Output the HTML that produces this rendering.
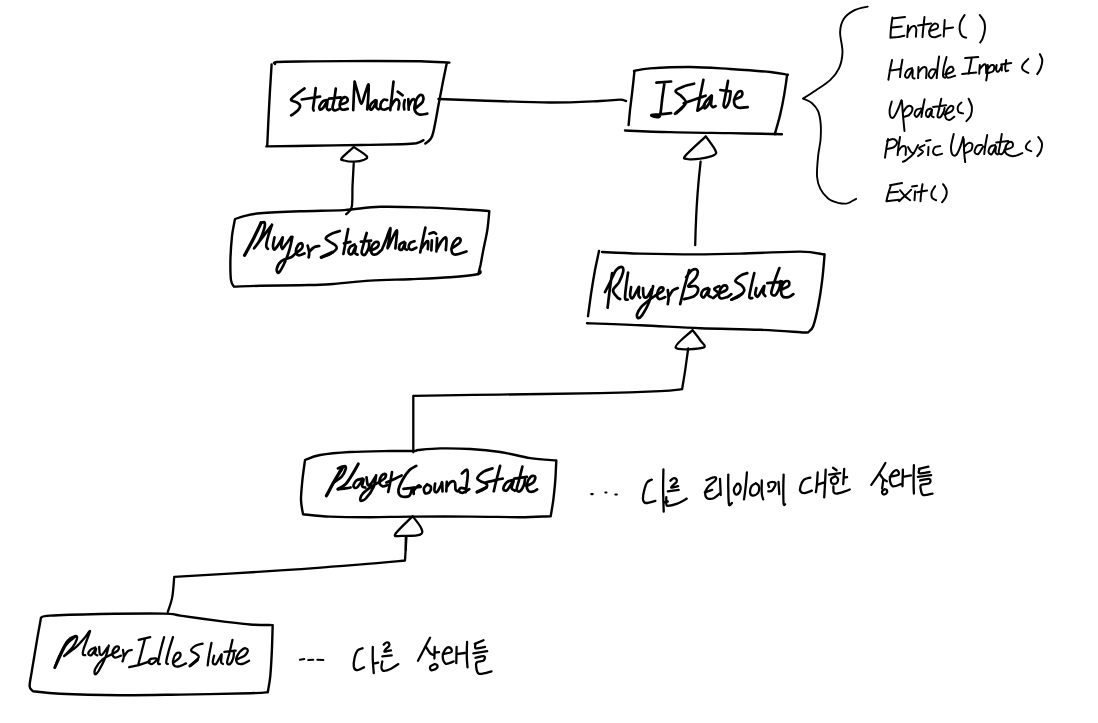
<!DOCTYPE html>
<html><head><meta charset="utf-8"><title>State diagram</title>
<style>html,body{margin:0;padding:0;background:#fff;}body{width:1098px;height:723px;overflow:hidden;font-family:"Liberation Sans",sans-serif;}svg{display:block;}</style>
</head><body>
<svg width="1098" height="723" viewBox="0 0 1098 723" fill="none" stroke="#000" stroke-linecap="round" stroke-linejoin="round">
<path d="M271.6 64.4C271.4 68.7 270.6 80.8 270.0 90.1C269.5 99.4 268.9 110.8 268.4 120.1C268.0 129.5 267.4 141.8 267.2 146.2M275.0 64.0C275.4 63.7 271.2 62.5 277.0 62.0C282.9 61.6 294.6 61.6 310.1 61.4C325.6 61.3 351.8 61.1 370.2 61.0C388.6 61.0 407.1 61.0 420.3 61.2C433.5 61.5 444.5 62.4 449.4 62.6M446.8 63.0C446.2 65.9 444.8 72.9 443.3 80.1C441.9 87.2 440.0 97.4 438.3 106.1C436.7 114.8 434.7 126.6 433.3 132.1C432.0 137.7 431.7 137.3 430.3 139.2C429.0 141.1 426.2 142.8 425.3 143.6M266.4 146.4C273.7 146.3 294.5 146.0 310.1 145.8C325.7 145.5 344.8 145.2 360.2 145.0C375.6 144.7 392.9 144.5 402.3 144.2C411.6 143.9 412.8 143.8 416.3 143.2C419.8 142.5 422.3 140.7 423.5 140.2" stroke-width="2.4"/>
<path d="M304.5 88.5C303.4 89.2 300.2 91.5 298.1 93.1C296.0 94.7 293.2 96.9 292.1 98.1C291.0 99.3 290.6 99.8 291.5 100.5C292.3 101.2 295.6 101.7 297.1 102.5C298.5 103.3 299.9 104.2 300.1 105.5C300.3 106.8 299.3 108.7 298.1 110.1C296.9 111.5 294.2 113.2 293.1 114.1C291.9 115.0 291.4 115.1 291.1 115.3M301.7 99.5L320.1 96.7M315.7 88.1C315.5 89.7 315.0 94.7 314.5 98.1C314.1 101.4 313.2 106.0 313.1 108.1C313.0 110.2 313.6 110.1 313.7 110.5M327.7 100.1C327.0 100.3 324.5 100.1 323.1 101.1C321.8 102.1 320.0 104.7 319.5 106.1C319.0 107.5 319.5 109.4 320.1 109.7C320.8 110.0 322.1 109.1 323.3 107.7C324.5 106.3 326.8 101.3 327.3 101.3C327.9 101.3 326.5 106.2 326.7 107.7C326.9 109.2 328.0 109.8 328.5 110.1C329.1 110.4 329.9 109.6 330.1 109.5M335.8 88.7C335.5 90.6 334.7 96.9 334.2 100.1C333.6 103.3 332.5 106.0 332.5 107.7C332.6 109.4 333.6 110.2 334.6 110.5C335.5 110.8 337.6 109.5 338.2 109.3M329.1 98.7L340.6 97.3M339.8 104.5C340.8 104.2 344.9 103.4 346.2 102.5C347.5 101.6 347.8 100.0 347.6 99.1C347.3 98.2 345.7 96.8 344.6 97.1C343.4 97.4 341.4 99.4 340.6 101.1C339.8 102.8 339.4 105.7 339.8 107.1C340.1 108.5 341.2 109.4 342.6 109.7C343.9 110.0 346.9 109.0 347.8 108.9M354.6 81.7C354.5 84.1 354.0 91.3 353.8 96.1C353.6 100.8 353.3 107.8 353.2 110.1M354.6 81.7C355.2 83.7 357.1 90.4 358.2 94.1C359.3 97.8 360.2 103.9 361.4 103.7C362.6 103.5 364.0 96.3 365.2 93.1C366.4 89.9 368.1 83.6 368.6 84.5C369.1 85.3 368.4 93.9 368.2 98.1C368.0 102.3 367.4 107.6 367.2 109.5M375.2 100.1C374.6 100.7 372.1 102.4 371.2 103.7C370.3 105.0 369.7 107.1 369.8 108.1C369.9 109.1 370.9 110.2 371.8 109.5C372.7 108.8 374.4 105.6 375.2 104.1C376.0 102.6 376.5 100.0 376.6 100.5C376.8 101.0 376.0 105.6 376.2 107.1C376.5 108.6 377.6 109.1 378.2 109.3C378.8 109.5 379.6 108.6 379.8 108.5M387.2 100.1C386.7 100.0 384.9 99.0 383.8 99.7C382.7 100.4 381.1 102.6 380.6 104.1C380.2 105.6 380.6 107.6 381.2 108.5C381.9 109.4 383.5 109.8 384.6 109.7C385.8 109.6 387.6 108.4 388.2 108.1M393.5 81.7C393.2 84.1 392.4 91.3 391.9 96.1C391.3 100.8 390.5 107.8 390.3 110.1M390.7 107.1C391.3 106.0 393.5 101.7 394.7 100.5C395.9 99.3 397.1 99.3 397.9 99.7C398.6 100.1 399.2 101.5 399.3 103.1C399.3 104.7 398.4 108.4 398.3 109.5M404.7 100.1C404.5 100.9 403.9 103.5 403.9 105.1C403.8 106.7 404.2 108.8 404.3 109.5M397.7 91.7L402.7 95.3M408.3 99.1L408.7 109.7M408.7 106.5C409.2 105.5 410.6 101.7 411.5 100.5C412.4 99.3 413.2 99.0 413.9 99.3C414.6 99.6 415.3 100.7 415.5 102.5C415.7 104.3 415.0 108.8 414.9 110.1M416.3 107.7C417.4 106.7 421.6 103.6 422.7 101.7C423.8 99.8 423.6 97.6 423.1 96.5C422.6 95.4 420.8 94.3 419.5 95.3C418.2 96.2 416.3 99.6 415.5 102.1C414.7 104.6 414.1 108.0 414.7 110.1C415.3 112.2 417.2 113.9 419.3 114.5C421.4 115.1 426.0 113.8 427.3 113.7" stroke-width="2.7"/>
<path d="M634.4 71.6C634.1 74.7 633.2 83.7 632.4 90.1C631.7 96.5 630.7 104.3 630.0 110.1C629.4 116.0 628.9 122.6 628.6 125.1M634.0 71.0C636.7 70.6 640.7 69.1 650.1 68.4C659.4 67.8 676.8 66.9 690.1 67.0C703.5 67.1 716.9 68.2 730.2 69.0C743.6 69.9 760.7 71.1 770.3 72.0C779.9 73.0 785.0 74.4 787.9 74.8M787.1 74.8C786.7 78.1 785.4 87.5 784.3 94.1C783.2 100.6 781.9 107.4 780.3 114.1C778.7 120.9 775.6 131.1 774.7 134.6M625.0 130.5C632.5 130.8 652.6 131.7 670.1 132.1C687.6 132.6 711.6 132.8 730.2 133.1C748.8 133.5 773.3 134.0 781.9 134.2" stroke-width="2.4"/>
<path d="M683.2 106.6L676.6 112.8" stroke-width="3.0"/>
<path d="M656.4 82.6L671.1 81.5M664.6 82.0C664.2 84.6 663.1 92.1 662.4 97.3C661.7 102.5 661.1 109.9 660.5 113.2C660.0 116.4 660.2 116.2 659.1 116.8C658.1 117.4 655.5 117.1 654.2 116.8C652.9 116.5 650.6 115.4 651.5 115.0C652.4 114.6 656.4 114.6 659.7 114.3C663.0 114.0 669.2 113.4 671.1 113.2M694.1 83.7C692.4 84.1 686.8 85.2 683.7 86.4C680.6 87.6 675.9 89.3 675.5 91.0C675.2 92.6 679.8 94.4 681.5 96.2C683.3 98.1 685.8 100.3 685.9 102.2C686.0 104.2 683.9 105.8 682.1 107.7C680.3 109.6 676.2 112.7 675.0 113.7M703.4 79.8C702.8 82.8 700.9 92.2 699.9 97.3C698.9 102.4 697.8 108.3 697.4 110.4M683.7 103.3C685.5 102.7 691.0 100.8 694.6 99.5C698.3 98.2 703.8 96.3 705.6 95.7M697.4 110.7C698.0 110.3 700.0 109.5 701.2 108.5C702.4 107.5 704.1 105.4 704.7 104.8M711.6 95.4C710.7 96.3 707.4 99.3 706.1 101.1C704.8 103.0 703.7 105.5 703.6 106.6C703.5 107.8 704.6 108.7 705.6 108.0C706.5 107.4 708.3 104.8 709.4 102.8C710.5 100.8 711.6 95.7 711.9 96.0C712.2 96.3 710.9 102.6 711.0 104.4C711.2 106.3 712.2 106.9 713.0 107.2C713.8 107.4 715.2 106.2 715.6 106.1M728.0 80.9C727.5 83.7 725.8 93.2 725.0 97.3C724.3 101.4 723.5 103.8 723.6 105.5C723.7 107.2 724.9 108.0 725.8 107.4C726.7 106.7 728.3 104.3 729.1 101.7C729.9 99.1 730.4 93.5 730.7 91.9M720.3 90.0L730.7 91.3M734.0 99.7C735.3 99.1 740.4 97.6 741.6 96.2C742.9 94.8 742.4 91.9 741.6 91.3C740.9 90.8 738.5 91.2 737.3 93.0C736.0 94.7 733.9 99.3 734.0 101.7C734.1 104.1 735.5 106.6 737.8 107.5C740.1 108.4 746.0 107.2 747.7 107.2" stroke-width="2.7"/>
<path d="M867.7 6.6C865.5 7.2 858.1 8.3 854.1 10.4C850.1 12.5 846.0 15.4 843.7 19.0C841.4 22.6 840.3 26.5 840.1 32.1C839.9 37.6 842.7 46.1 842.5 52.1C842.3 58.1 841.2 63.4 839.1 68.1C837.0 72.8 833.9 76.5 830.1 80.1C826.2 83.8 820.6 87.1 816.0 90.2C811.5 93.2 805.2 97.2 803.0 98.6M803.0 98.6C804.5 99.3 809.5 101.1 812.0 103.2C814.5 105.3 816.6 107.7 818.1 111.2C819.5 114.7 820.3 119.4 820.7 124.2C821.1 129.1 820.9 134.9 820.5 140.3C820.0 145.6 818.6 150.3 818.1 156.3C817.5 162.3 816.7 171.0 817.0 176.3C817.4 181.7 818.2 184.7 820.1 188.3C821.9 192.0 825.1 196.0 828.1 198.4C831.1 200.8 834.9 201.9 838.1 202.8C841.3 203.6 844.1 204.0 847.1 203.4C850.1 202.7 854.6 199.5 856.1 198.8" stroke-width="1.9"/>
<path d="M892.4 17.6C892.2 19.4 891.4 24.7 891.0 28.1C890.7 31.4 890.5 36.1 890.4 37.7M892.4 18.4L905.0 17.0M892.0 27.6L901.6 26.6M890.4 37.7C891.7 37.6 895.7 37.4 898.0 37.1C900.4 36.7 903.4 35.9 904.4 35.7M908.1 25.6L907.3 37.1M907.9 32.5C908.4 31.6 910.0 28.3 911.1 27.2C912.2 26.2 913.6 25.7 914.5 26.0C915.3 26.3 916.0 27.3 916.3 29.1C916.5 30.8 915.9 35.4 915.9 36.7M924.5 17.0C924.3 18.9 923.6 24.7 923.3 28.1C922.9 31.4 922.6 35.6 922.5 37.1M918.1 25.6L931.1 23.6M929.1 31.1C930.4 30.6 935.7 29.6 937.1 28.5C938.5 27.3 938.1 25.2 937.5 24.4C936.9 23.7 935.0 23.2 933.7 24.0C932.4 24.9 930.3 27.7 929.7 29.7C929.1 31.6 929.2 34.4 930.1 35.7C931.0 36.9 933.4 37.4 935.1 37.3C936.8 37.2 939.6 35.4 940.5 35.1M944.7 20.0L943.7 36.5M944.1 28.7L953.1 27.4M964.6 15.0C963.9 16.2 961.4 19.5 960.5 22.0C959.7 24.5 959.5 27.7 959.7 30.1C960.0 32.4 961.1 34.8 962.2 36.1C963.2 37.3 965.5 37.4 966.2 37.7M979.8 15.0C980.5 16.1 983.4 19.1 984.2 21.6C985.0 24.1 985.1 27.2 984.8 30.1C984.5 32.9 983.4 36.4 982.6 38.5C981.8 40.5 980.6 41.8 980.2 42.5M892.0 60.1C891.7 61.8 890.6 66.9 890.0 70.1C889.4 73.4 888.7 78.1 888.4 79.7M902.4 59.7C902.2 61.3 901.2 66.2 900.8 69.1C900.4 72.0 900.2 75.8 900.0 77.1M889.6 70.5C890.7 70.4 894.1 70.0 896.0 69.7C898.0 69.4 900.4 68.9 901.2 68.7M912.1 68.1C911.3 68.5 908.6 68.9 907.5 70.1C906.3 71.4 904.9 74.5 905.0 75.7C905.1 77.0 906.8 78.5 908.1 77.5C909.3 76.5 911.7 69.8 912.5 69.7C913.2 69.7 912.1 75.7 912.5 77.1C912.8 78.6 914.1 78.3 914.5 78.5M918.5 67.1L918.1 78.1M918.5 72.5C919.1 71.7 921.2 68.5 922.5 67.7C923.7 66.9 925.4 67.0 926.1 67.7C926.8 68.5 926.5 70.4 926.5 72.1C926.5 73.9 926.2 77.1 926.1 78.1M935.5 69.5C934.8 69.6 932.2 68.8 931.1 69.7C930.0 70.7 928.6 73.7 928.7 75.1C928.8 76.5 930.5 78.9 931.7 78.1C932.9 77.4 935.4 71.8 936.1 70.5M939.1 56.5C938.8 58.4 937.9 64.5 937.5 68.1C937.1 71.7 936.8 76.5 936.7 78.1M946.5 57.1C946.1 58.9 944.3 65.0 943.7 68.1C943.2 71.3 942.9 74.5 943.1 76.1C943.4 77.7 944.8 77.5 945.1 77.7M945.1 74.5C946.4 74.0 951.2 72.7 952.5 71.5C953.8 70.4 953.4 68.5 952.9 67.7C952.5 67.0 950.9 66.3 949.7 67.1C948.6 67.9 946.5 70.8 946.1 72.5C945.8 74.3 946.2 77.2 947.7 77.7C949.2 78.3 953.9 76.1 955.1 75.7M965.2 58.1L978.2 57.1M971.8 57.7C971.5 59.1 970.7 63.4 970.2 66.1C969.6 68.8 968.8 72.5 968.6 73.7M962.2 74.1L976.2 72.5M979.8 65.1L979.2 73.7M979.8 69.1C980.4 68.5 982.2 65.8 983.2 65.1C984.2 64.4 985.3 63.8 985.8 65.1C986.3 66.5 986.1 71.8 986.2 73.1M987.8 65.1C987.7 66.6 987.5 71.6 987.2 74.1C986.9 76.7 986.4 79.5 986.2 80.5M987.8 69.1C988.4 68.5 990.1 65.6 991.2 65.1C992.3 64.6 993.9 65.1 994.2 66.1C994.5 67.1 994.2 70.0 993.2 71.1C992.2 72.3 989.0 72.8 988.2 73.1M996.6 65.1C996.5 66.0 995.9 69.0 996.2 70.1C996.5 71.2 997.4 72.2 998.2 71.7C999.1 71.2 1000.6 68.3 1001.2 67.1C1001.8 65.9 1001.7 63.9 1001.8 64.5C1001.9 65.1 1001.8 69.5 1001.8 70.5M1006.2 60.1C1006.1 61.4 1005.3 66.3 1005.2 68.1C1005.2 70.0 1005.3 70.7 1005.8 71.1C1006.3 71.5 1007.8 70.6 1008.2 70.5M1001.2 64.5L1011.2 63.1M1028.3 58.9C1027.4 59.9 1023.8 62.9 1022.9 64.7C1021.9 66.5 1021.8 68.2 1022.7 69.5C1023.6 70.9 1027.3 72.4 1028.3 72.9M1039.9 54.1C1040.3 55.1 1042.2 57.8 1042.3 60.1C1042.4 62.4 1041.5 65.8 1040.7 68.1C1039.9 70.5 1037.9 73.1 1037.3 74.1" stroke-width="2.0"/>
<path d="M888.0 139.1C887.8 140.6 886.9 145.0 886.4 148.1C885.9 151.2 885.2 156.1 885.0 157.7M887.0 141.1C888.0 140.7 891.4 138.9 893.0 139.1C894.7 139.2 896.9 140.7 897.0 142.1C897.2 143.4 895.7 145.9 894.0 147.1C892.4 148.3 888.2 148.8 887.0 149.1M900.0 137.1C899.8 138.7 898.8 144.1 898.4 147.1C898.0 150.1 897.8 153.8 897.6 155.1M898.0 151.1C898.7 150.3 900.8 147.2 902.0 146.5C903.3 145.8 905.0 145.6 905.6 147.1C906.3 148.5 905.6 153.8 905.6 155.1M908.1 147.1C908.6 147.9 910.1 151.1 911.1 152.1C912.1 153.1 913.6 152.9 914.1 153.1M918.1 145.1C917.2 146.6 915.1 151.6 913.1 154.1C911.1 156.6 907.7 158.8 906.1 160.1C904.4 161.4 903.5 161.4 903.0 161.7M924.5 145.1C923.6 145.6 919.3 147.0 919.1 148.1C918.8 149.2 923.2 150.4 923.1 151.7C922.9 153.0 918.9 155.4 918.1 156.1M928.5 147.1L928.1 155.1M926.1 141.1L930.5 140.1M940.1 146.1C939.3 146.2 936.3 146.1 935.1 147.1C933.9 148.1 932.9 150.8 933.1 152.1C933.3 153.4 934.6 154.8 936.1 155.1C937.6 155.4 941.1 153.9 942.1 153.7M953.7 134.1C953.3 136.1 951.4 142.7 951.1 146.1C950.9 149.4 951.3 152.6 952.1 154.1C953.0 155.6 954.7 156.4 956.1 155.1C957.5 153.8 959.4 149.1 960.5 146.1C961.7 143.1 962.7 138.6 963.2 137.1M963.8 139.1C963.8 141.2 963.9 148.3 964.2 152.1C964.4 155.9 965.0 160.4 965.2 162.1M964.2 147.1C964.8 146.4 966.8 143.6 968.2 143.1C969.5 142.6 971.7 142.9 972.2 144.1C972.7 145.2 972.3 148.6 971.2 150.1C970.0 151.6 966.2 152.6 965.2 153.1M981.8 145.1C981.0 145.2 978.4 144.6 977.2 145.7C976.0 146.8 974.4 150.3 974.6 151.7C974.7 153.1 976.7 155.0 978.2 154.1C979.6 153.2 982.4 147.8 983.2 146.5M987.2 135.1C986.9 136.9 985.7 142.9 985.2 146.1C984.7 149.3 984.4 152.8 984.2 154.1M995.2 145.1C994.4 145.3 991.7 145.3 990.6 146.5C989.5 147.7 988.4 150.8 988.6 152.1C988.8 153.4 990.6 155.0 991.8 154.1C993.0 153.2 995.2 146.8 995.8 146.5C996.4 146.2 995.1 151.2 995.4 152.5C995.7 153.8 997.4 154.2 997.8 154.5M1001.8 134.1C1001.5 136.1 1000.3 143.0 999.8 146.1C999.3 149.2 998.5 151.2 998.8 152.5C999.2 153.8 1000.8 154.7 1001.8 154.1C1002.9 153.5 1004.5 150.6 1005.2 149.1C1006.0 147.6 1006.1 145.7 1006.2 145.1M996.2 142.5L1008.2 141.1M1004.2 150.1C1005.6 149.6 1010.9 148.4 1012.2 147.1C1013.6 145.8 1012.8 143.2 1012.2 142.5C1011.6 141.7 1009.8 141.5 1008.6 142.5C1007.5 143.4 1005.6 146.1 1005.2 148.1C1004.9 150.0 1005.1 152.8 1006.6 154.1C1008.1 155.4 1011.6 156.3 1014.2 156.1C1016.8 155.9 1020.9 153.6 1022.3 153.1M1029.9 141.1C1029.3 141.7 1026.8 143.7 1026.3 145.1C1025.7 146.4 1025.8 148.1 1026.7 149.1C1027.5 150.1 1030.5 150.8 1031.3 151.1M1038.3 137.1C1038.9 138.1 1041.5 140.7 1041.9 143.1C1042.3 145.4 1041.5 148.9 1040.7 151.1C1039.9 153.3 1037.9 155.3 1037.3 156.1M891.0 185.2C890.6 186.5 889.2 190.5 888.4 193.2C887.7 195.8 886.7 199.8 886.4 201.2M890.0 185.2L902.0 183.1M889.6 192.6L898.0 191.8M886.4 201.2L899.0 199.8M900.0 190.2C900.9 191.2 903.4 194.5 905.0 196.2C906.7 197.8 909.2 199.5 910.1 200.2M911.1 189.8C910.1 190.8 907.1 193.9 905.0 195.8C903.0 197.7 900.0 200.3 899.0 201.2M915.1 191.2L914.5 200.2M912.1 186.6L917.1 185.8M922.5 184.2C922.2 185.8 921.4 191.3 921.1 194.2C920.7 197.0 920.6 200.0 920.5 201.2M917.1 192.2L927.1 190.6M935.1 186.2C934.5 187.2 932.2 190.2 931.7 192.2C931.2 194.1 931.4 196.4 932.1 197.8C932.8 199.1 935.4 199.8 936.1 200.2M943.1 184.2C943.7 185.2 946.1 188.0 946.5 190.2C947.0 192.3 946.5 195.2 945.7 197.2C945.0 199.2 942.7 201.3 942.1 202.2" stroke-width="2.0"/>
<path d="M235.0 219.1C234.5 221.9 232.8 229.3 232.0 236.1C231.3 242.9 230.6 252.8 230.4 260.1C230.3 267.5 230.4 275.8 231.0 280.2C231.6 284.6 233.5 285.5 234.0 286.6M235.0 219.1C236.5 218.6 239.9 217.0 244.0 216.1C248.2 215.1 250.7 214.1 260.1 213.3C269.4 212.5 286.1 211.8 300.1 211.3C314.2 210.7 330.9 210.8 344.2 210.1C357.6 209.3 366.0 207.2 380.3 206.8C394.6 206.4 415.2 207.2 430.2 207.6C445.2 208.1 460.4 209.1 470.3 209.7C480.1 210.2 486.1 210.8 489.3 211.1M489.3 211.1C489.0 214.2 488.3 223.6 487.3 230.1C486.3 236.6 484.4 244.4 483.3 250.1C482.2 255.8 481.5 260.1 480.7 264.2C479.8 268.2 478.7 272.5 478.3 274.2M480.5 271.2C479.9 271.7 482.3 273.2 477.3 274.2C472.2 275.2 461.4 276.3 450.2 277.2C439.0 278.0 423.5 278.6 410.1 279.2C396.8 279.7 383.4 279.7 370.1 280.6C356.7 281.4 341.7 283.4 330.0 284.2C318.3 285.0 311.8 284.9 300.1 285.2C288.5 285.5 271.1 285.6 260.1 285.8C249.1 286.0 238.4 286.5 234.0 286.6" stroke-width="2.4"/>
<path d="M599.0 251.0C598.4 254.2 596.4 262.9 595.0 270.1C593.7 277.3 592.2 286.4 591.0 294.1C589.9 301.8 588.5 312.5 588.0 316.2M602.0 252.0C608.4 252.3 624.6 253.2 640.1 253.6C655.6 254.0 678.5 254.4 695.2 254.4C711.9 254.4 722.8 254.1 740.3 253.6C757.8 253.2 786.2 251.5 800.2 251.6C814.2 251.8 820.2 254.0 824.2 254.4M824.6 254.4C824.2 258.7 823.3 271.5 822.2 280.1C821.2 288.7 819.7 298.5 818.2 306.1C816.7 313.8 814.9 321.8 813.2 326.2C811.6 330.5 809.0 331.2 808.2 332.2M587.0 323.2C595.9 323.5 621.2 324.3 640.1 325.2C659.0 326.0 680.2 327.4 700.2 328.2C720.3 328.9 743.7 329.1 760.3 329.8C777.0 330.4 792.4 331.7 800.2 332.2C808.0 332.7 806.0 332.5 807.2 332.6" stroke-width="2.4"/>
<path d="M742.3 293.7L732.3 299.3" stroke-width="2.8"/>
<path d="M612.1 273.1C611.7 275.9 610.4 284.3 609.7 290.1C608.9 295.9 608.0 304.8 607.6 307.7M605.0 292.1C605.9 290.4 608.2 285.8 610.1 282.1C611.9 278.4 614.1 272.6 616.1 270.1C618.1 267.6 620.9 266.7 622.1 267.1C623.2 267.4 623.6 269.6 623.1 272.1C622.6 274.6 620.7 279.1 619.1 282.1C617.4 285.1 613.4 287.6 613.1 290.1C612.7 292.6 615.9 295.6 617.1 297.1C618.2 298.6 619.6 298.8 620.1 299.1M628.1 272.5C627.8 274.7 626.6 281.8 626.1 286.1C625.6 290.4 624.8 295.9 625.1 298.1C625.3 300.4 627.3 299.5 627.7 299.7M631.1 287.1C630.9 288.4 629.9 293.3 630.1 295.1C630.3 297.0 631.3 299.0 632.5 298.1C633.7 297.3 636.0 291.9 637.1 290.1C638.2 288.3 638.9 286.3 639.1 287.1C639.3 287.9 638.3 293.3 638.5 295.1C638.7 296.9 639.8 297.3 640.1 297.7M643.1 288.1C643.2 289.4 643.0 294.6 643.7 296.1C644.4 297.6 645.8 298.3 647.1 297.1C648.5 296.0 651.0 290.4 651.7 289.1M653.1 286.1C652.5 288.8 651.0 297.3 649.1 302.1C647.3 307.0 643.9 312.5 642.1 315.2C640.3 317.8 638.9 318.3 638.1 318.2C637.3 318.0 636.6 316.0 637.1 314.2C637.6 312.3 639.1 309.5 641.1 307.1C643.1 304.8 646.6 302.1 649.1 300.1C651.6 298.1 655.0 296.0 656.1 295.1M656.1 295.1C657.2 294.4 661.4 292.3 662.5 291.1C663.7 289.9 663.6 288.2 663.1 287.7C662.7 287.2 660.7 287.0 659.7 288.1C658.7 289.2 657.2 292.3 657.1 294.1C657.0 296.0 657.8 298.6 659.1 299.1C660.5 299.6 664.2 297.5 665.2 297.1M667.8 290.1C667.9 291.4 668.6 295.8 668.6 298.1C668.6 300.5 667.9 303.1 667.8 304.1M668.6 297.1C669.3 296.0 671.6 291.6 673.2 290.1C674.7 288.6 677.0 288.4 677.8 288.1M689.2 270.1C688.4 273.1 685.7 282.4 684.2 288.1C682.7 293.8 680.8 301.5 680.2 304.1M686.2 277.1C687.2 275.9 690.4 271.2 692.2 270.1C694.0 268.9 696.5 268.9 697.2 270.1C697.9 271.2 697.7 274.4 696.2 277.1C694.7 279.8 688.4 284.6 688.2 286.1C688.0 287.6 693.5 285.4 695.2 286.1C696.9 286.8 698.4 288.4 698.2 290.1C698.0 291.8 696.5 294.6 694.2 296.1C691.9 297.6 685.9 298.6 684.2 299.1M708.2 288.1C707.4 288.4 704.4 288.9 703.2 290.1C702.1 291.3 701.1 293.9 701.2 295.1C701.4 296.3 702.9 298.1 704.2 297.1C705.6 296.1 708.6 289.4 709.2 289.1C709.9 288.8 707.9 293.8 708.2 295.1C708.6 296.5 710.7 296.8 711.2 297.1M719.3 286.1C718.4 286.6 714.4 287.9 714.2 289.1C714.1 290.3 718.4 291.6 718.2 293.1C718.1 294.6 714.1 297.3 713.2 298.1M718.2 294.1C719.6 293.4 724.9 291.4 726.3 290.1C727.7 288.8 727.3 286.8 726.7 286.1C726.1 285.4 723.9 285.1 722.7 286.1C721.4 287.1 719.7 290.1 719.3 292.1C718.8 294.1 718.9 297.3 720.3 298.1C721.6 299.0 725.4 297.8 727.3 297.1C729.1 296.5 730.6 294.6 731.3 294.1M747.3 273.1C746.3 273.4 743.3 273.7 741.3 275.1C739.3 276.4 735.3 279.4 735.3 281.1C735.3 282.8 739.8 283.6 741.3 285.1C742.8 286.6 744.6 288.3 744.3 290.1C744.0 291.9 741.5 294.5 739.3 296.1C737.1 297.7 732.6 299.1 731.3 299.7M754.3 273.1C753.8 275.2 752.1 282.1 751.3 286.1C750.5 290.1 749.1 295.1 749.3 297.1C749.5 299.1 751.8 298.0 752.3 298.1M756.3 288.1C756.2 289.1 755.0 292.7 755.3 294.1C755.6 295.5 756.8 297.4 757.9 296.5C759.1 295.7 761.3 290.8 762.3 289.1C763.4 287.4 764.2 285.4 764.3 286.1C764.5 286.8 763.2 291.4 763.3 293.1C763.5 294.8 765.0 295.6 765.3 296.1M779.4 268.1C778.5 270.4 775.7 277.9 774.3 282.1C773.0 286.3 771.2 290.9 771.3 293.1C771.5 295.3 774.0 296.0 775.4 295.1C776.7 294.3 778.5 290.4 779.4 288.1C780.2 285.8 780.2 282.3 780.4 281.1M767.3 283.1L782.4 281.7M780.4 290.1C781.7 289.4 787.0 287.5 788.4 286.1C789.8 284.7 789.4 282.4 788.8 281.7C788.2 281.0 786.0 280.6 784.8 281.7C783.5 282.8 781.8 285.7 781.4 288.1C781.0 290.5 781.2 294.6 782.4 296.1C783.5 297.6 786.5 297.5 788.4 297.1C790.2 296.8 792.5 294.6 793.4 294.1" stroke-width="2.7"/>
<path d="M305.0 460.1C304.6 463.4 303.1 473.4 302.4 480.1C301.8 486.8 300.9 494.4 301.0 500.1C301.1 505.8 302.7 511.8 303.0 514.2M305.0 460.1C307.5 459.2 312.5 456.4 320.1 455.0C327.6 453.7 338.4 452.7 350.1 452.0C361.8 451.4 379.5 451.2 390.2 451.0C400.9 450.9 409.5 451.2 414.2 451.0C418.9 450.9 413.9 450.5 418.2 450.0C422.6 449.6 431.6 448.6 440.3 448.4C449.0 448.3 460.3 448.4 470.3 449.0C480.3 449.6 490.2 450.5 500.2 452.0C510.2 453.5 520.9 456.6 530.2 458.1C539.6 459.5 551.9 460.1 556.3 460.5M556.3 460.5C556.1 463.7 555.8 473.5 555.3 480.1C554.8 486.7 554.0 494.1 553.3 500.1C552.5 506.1 551.1 513.5 550.7 516.2M303.0 514.2C307.5 514.6 318.9 516.1 330.1 516.6C341.3 517.1 356.5 517.2 370.1 517.2C383.8 517.2 395.5 516.7 412.2 516.6C428.9 516.5 452.3 516.5 470.3 516.6C488.3 516.7 506.9 517.2 520.2 517.2C533.5 517.1 545.3 516.3 550.3 516.2" stroke-width="2.4"/>
<path d="M591.3 494.1L592.7 494.1M605.4 492.5L606.4 492.5M615.4 494.5L616.8 494.5" stroke-width="2.2"/>
<path d="M438.4 99.0C445.3 99.2 461.4 99.9 480.0 100.5C498.6 101.1 530.0 102.4 550.0 102.5C570.0 102.6 588.3 101.5 600.0 101.0C611.7 100.5 615.7 99.7 620.0 99.7C624.3 99.7 625.0 100.8 626.0 101.0" stroke-width="2.3"/>
<path d="M353.7 147.0C351.7 148.9 343.3 155.8 341.7 158.1C340.1 160.3 342.0 159.9 344.1 160.5C346.2 161.1 350.8 161.8 354.1 161.7C357.5 161.5 362.1 160.6 364.2 159.7C366.2 158.7 368.3 158.2 366.6 156.0C364.8 153.9 355.9 148.5 353.7 147.0M353.7 163.7C353.5 167.4 352.9 178.9 352.5 186.1C352.2 193.3 352.8 202.5 351.7 207.1C350.7 211.8 347.1 213.0 346.1 214.2" stroke-width="2.3"/>
<path d="M705.8 136.4C702.4 139.7 688.1 152.3 685.2 156.0C682.2 159.8 685.7 158.6 688.2 159.1C690.7 159.5 695.8 159.3 700.2 158.7C704.5 158.0 711.7 156.5 714.2 155.0C716.7 153.6 716.6 153.1 715.2 150.0C713.8 146.9 707.4 138.7 705.8 136.4M700.6 161.7C700.2 165.7 698.9 177.0 698.2 186.1C697.4 195.2 696.7 206.3 696.2 216.2C695.7 226.0 695.3 240.4 695.2 245.2" stroke-width="2.3"/>
<path d="M692.6 330.1C689.8 333.0 674.0 344.7 675.7 347.7C677.5 350.6 699.1 349.0 703.2 347.7C707.3 346.4 702.0 343.0 700.2 340.1C698.4 337.1 693.8 331.7 692.6 330.1M688.2 348.5C687.7 352.1 686.2 363.3 685.2 370.1C684.2 376.9 682.6 386.0 682.1 389.2M682.1 389.2C678.5 389.5 673.8 390.5 660.1 391.2C646.4 391.8 626.7 392.6 600.0 393.2C573.3 393.7 530.9 394.1 499.8 394.6C468.8 395.0 428.0 395.6 413.7 395.8M413.3 395.8L413.3 452.3" stroke-width="2.3"/>
<path d="M412.6 516.2C409.7 519.2 396.9 530.9 395.2 534.2C393.5 537.5 398.0 535.7 402.2 535.8C406.4 535.9 417.1 535.9 420.2 534.6C423.4 533.3 422.5 531.2 421.2 528.2C420.0 525.1 414.1 518.2 412.6 516.2M405.8 537.2L405.8 549.8" stroke-width="2.3"/>
<path d="M651.8 479.7C651.0 480.0 648.6 480.3 647.4 481.9C646.2 483.4 645.2 486.2 644.5 489.1C643.7 492.1 642.8 497.0 643.0 499.3C643.3 501.7 643.9 502.7 645.9 503.0C648.0 503.2 653.8 501.2 655.4 500.8M647.4 481.9L649.9 480.4M663.4 469.5C663.4 472.8 663.1 482.1 663.1 489.1C663.2 496.2 663.6 508.0 663.7 511.7M670.4 480.7C670.9 480.3 672.2 478.7 673.2 478.4C674.1 478.1 675.5 478.4 676.1 478.9C676.7 479.5 677.0 480.8 676.5 481.9C676.0 482.9 674.1 484.1 673.2 485.1C672.3 486.0 670.9 487.3 671.1 487.7C671.3 488.0 673.2 487.3 674.3 487.1C675.5 486.9 677.5 486.4 678.1 486.2M667.8 491.3L678.7 489.9M663.7 502.3L667.8 501.5M666.3 497.2C666.3 498.3 666.1 502.3 666.3 503.7C666.6 505.2 666.0 505.9 667.8 505.9C669.6 505.9 674.1 504.9 677.3 503.7C680.4 502.5 685.2 499.5 686.7 498.6M706.4 480.1C707.8 479.6 713.3 477.1 714.9 477.2C716.4 477.2 716.5 478.9 715.4 480.4C714.4 481.9 710.3 484.2 708.6 486.2C706.8 488.2 705.6 491.3 704.9 492.3M704.9 492.3L712.2 489.9M705.2 492.8C705.3 493.4 705.2 495.5 705.7 496.4C706.1 497.4 706.5 498.3 707.9 498.6C709.2 498.9 711.8 499.0 713.7 498.2C715.6 497.4 718.3 494.5 719.2 493.8M720.0 478.9L720.7 495.0M728.3 474.6C728.3 477.0 728.1 484.2 728.3 489.1C728.4 494.1 728.4 502.1 729.0 504.4C729.6 506.8 731.4 503.2 731.9 503.0M737.0 484.0C736.5 484.8 734.5 486.8 734.1 488.4C733.7 490.0 734.2 492.5 734.8 493.5C735.4 494.5 736.8 495.0 737.7 494.2C738.7 493.5 740.4 490.8 740.6 489.1C740.9 487.4 739.8 484.9 739.2 484.0C738.6 483.2 737.4 484.0 737.0 484.0M746.9 472.4C746.7 474.7 746.2 481.7 745.7 486.2C745.3 490.7 744.3 497.2 744.0 499.3M755.9 483.3C755.2 483.8 752.5 484.7 751.6 486.2C750.6 487.8 749.9 491.2 750.1 492.8C750.4 494.4 751.7 495.7 753.0 495.7C754.4 495.7 757.2 494.4 758.1 492.8C759.1 491.2 759.2 487.8 758.9 486.2C758.5 484.7 756.4 483.8 755.9 483.3M761.8 480.4C761.8 482.6 761.5 490.4 761.8 493.5C762.0 496.7 763.0 498.4 763.2 499.3M769.1 487.0C768.9 486.4 767.7 484.2 768.3 483.3C768.9 482.5 771.5 481.7 772.7 481.9C773.9 482.0 775.7 482.6 775.6 484.0C775.5 485.5 773.2 489.4 772.0 490.6C770.8 491.8 768.9 491.2 768.3 491.3M778.5 481.9L779.3 494.2M783.6 474.6C783.6 477.0 783.3 484.3 783.3 489.1C783.3 494.0 783.3 501.2 783.6 503.7C783.9 506.3 784.8 504.3 785.1 504.4" stroke-width="2.3"/>
<path d="M810.4 477.6C809.3 478.0 805.5 478.3 803.8 479.8C802.2 481.2 801.1 484.4 800.5 486.3C799.9 488.3 799.8 490.3 800.5 491.4C801.2 492.6 802.7 493.3 804.6 493.2C806.5 493.1 810.6 491.1 811.9 490.7M817.7 472.5C817.6 474.4 817.2 480.9 817.0 484.1C816.7 487.4 816.1 490.8 815.9 492.2M817.0 484.9L823.5 482.7M825.7 469.6C825.6 472.0 825.2 479.5 825.0 484.1C824.7 488.8 824.4 495.1 824.2 497.3M833.0 467.8L836.6 470.3M829.1 474.7L840.3 473.2M835.2 476.1C834.5 476.6 831.6 477.8 831.1 479.0C830.6 480.3 831.1 482.7 832.0 483.4C832.8 484.1 835.3 484.1 836.3 483.4C837.4 482.7 838.3 480.3 838.1 479.0C837.9 477.8 835.7 476.6 835.2 476.1M844.2 468.8C844.1 470.4 843.8 475.8 843.6 478.3C843.5 480.9 843.3 483.2 843.2 484.1M843.6 477.6L847.1 477.1M833.4 486.3C833.5 487.3 833.2 490.9 833.7 492.2C834.3 493.4 834.9 493.7 836.6 493.6C838.3 493.5 841.7 492.4 843.9 491.7C846.1 491.0 848.8 489.9 849.7 489.5M885.4 463.0C884.4 464.8 881.2 470.3 878.9 473.9C876.5 477.6 872.6 483.1 871.3 484.9M879.2 473.2C879.9 474.2 882.0 477.7 883.3 479.0C884.5 480.4 886.3 480.9 886.9 481.2M883.3 479.8L882.1 488.5M884.7 489.2C884.3 489.6 882.3 490.6 882.1 491.4C881.9 492.3 882.5 494.1 883.3 494.3C884.0 494.6 885.9 493.9 886.5 493.2C887.1 492.4 887.2 490.6 886.9 490.0C886.6 489.3 885.1 489.4 884.7 489.2M889.8 476.9C891.3 476.5 897.3 475.8 898.6 474.7C899.8 473.6 898.1 470.7 897.1 470.3C896.1 469.9 893.9 471.0 892.7 472.5C891.5 473.9 889.8 476.7 889.8 479.0C889.8 481.4 890.9 485.5 892.7 486.3C894.6 487.2 899.4 484.5 900.7 484.1M902.9 469.6L902.5 486.3M902.9 476.9L910.9 475.4M913.9 465.2C913.8 467.6 913.6 475.0 913.6 479.8C913.6 484.5 913.8 491.3 913.9 493.6M919.0 468.8L928.4 466.7M919.7 468.8C919.6 469.6 917.7 472.7 919.4 473.2C921.1 473.7 927.9 472.0 929.6 471.8M917.9 476.9L931.1 475.1M920.1 480.5C921.7 480.3 928.1 478.6 929.6 479.0C931.1 479.5 930.6 482.4 929.2 483.4C927.8 484.4 922.5 483.8 921.1 484.9C919.8 486.0 920.5 488.3 920.9 490.0C921.2 491.7 921.4 494.5 923.3 495.1C925.3 495.7 931.0 493.9 932.5 493.6" stroke-width="2.3"/>
<path d="M41.0 617.6C40.4 621.4 38.5 631.3 37.0 640.1C35.5 648.8 33.3 662.5 32.0 670.1C30.8 677.8 29.5 682.7 29.6 686.2C29.8 689.7 32.5 690.3 33.0 691.2M41.0 617.6C42.5 617.3 40.2 616.2 50.1 615.6C59.9 615.0 81.1 614.4 100.1 614.0C119.2 613.7 150.9 613.4 164.3 613.6C177.6 613.9 170.9 614.4 180.3 615.6C189.6 616.9 208.7 619.6 220.4 621.1C232.0 622.5 241.5 623.8 250.2 624.5C258.9 625.1 268.9 625.0 272.7 625.1M272.7 625.1C272.5 629.2 272.3 641.6 271.9 650.1C271.5 658.6 270.9 669.1 270.3 676.2C269.6 683.2 268.2 689.5 267.8 692.2M33.0 691.2C37.5 691.6 45.5 693.1 60.1 693.8C74.6 694.5 100.1 695.1 120.2 695.2C140.2 695.3 158.6 694.9 180.3 694.6C202.0 694.3 235.6 693.6 250.2 693.2C264.8 692.8 264.9 692.4 267.8 692.2" stroke-width="2.4"/>
<path d="M299.9 659.7L304.3 659.1M308.3 660.1L313.3 659.7M317.3 659.7L323.3 660.1" stroke-width="2.0"/>
<path d="M406.4 537.3L405.0 560.5M405.0 560.5C397.3 561.2 380.0 562.9 358.6 564.6C337.2 566.3 307.3 568.7 276.6 570.7C245.9 572.8 191.3 575.9 174.2 576.9M174.2 577.0C173.9 580.4 173.3 591.6 172.2 597.4C171.1 603.2 168.5 609.6 167.8 612.0" stroke-width="2.3"/>
<path d="M362.6 648.3C361.7 648.7 358.8 648.9 357.5 650.5C356.2 652.1 355.2 655.1 354.6 657.8C354.0 660.5 353.5 664.5 353.8 666.5C354.2 668.6 355.1 670.1 356.8 670.2C358.5 670.3 362.8 667.7 364.0 667.3M372.8 646.9C372.8 649.0 372.6 655.6 372.8 660.0C373.0 664.3 373.6 670.9 373.8 673.1M383.7 644.7C384.2 644.3 385.5 642.7 386.3 642.5C387.2 642.2 388.5 642.6 389.0 643.2C389.4 643.8 389.5 645.2 389.0 646.1C388.5 647.1 386.7 648.1 385.9 649.0C385.1 649.9 384.2 651.2 384.4 651.5C384.7 651.9 386.3 651.4 387.4 651.2C388.5 651.0 390.4 650.5 391.0 650.4M382.3 656.3L391.7 655.3M373.5 663.6L378.2 662.6M382.3 661.4C382.1 662.5 381.3 666.4 381.5 668.0C381.8 669.6 382.1 670.8 383.7 670.9C385.3 671.0 388.6 669.9 391.0 668.7C393.4 667.6 397.1 664.8 398.3 664.1M430.1 637.8C429.1 639.6 426.5 644.5 424.5 648.3C422.5 652.1 419.1 658.6 418.0 660.7M426.0 646.9C426.7 648.0 429.1 652.1 430.3 653.4C431.6 654.8 432.8 654.6 433.3 654.9M434.7 646.9L434.4 658.5M434.7 652.7L439.1 652.1M434.7 664.1C434.0 664.5 431.0 665.5 430.3 666.5C429.7 667.6 430.1 669.8 431.1 670.2C432.0 670.5 435.1 669.6 436.2 668.7C437.2 667.9 437.6 665.9 437.3 665.1C437.1 664.3 435.2 664.2 434.7 664.1M442.7 654.1C444.2 653.8 450.3 653.1 451.5 652.0C452.7 650.9 451.0 648.1 450.0 647.6C449.0 647.1 446.9 647.6 445.6 649.0C444.4 650.5 442.7 653.9 442.7 656.3C442.7 658.8 443.8 662.8 445.6 663.6C447.5 664.5 452.3 661.8 453.7 661.4M456.6 646.9L456.3 663.2M456.6 654.1L464.6 653.0M467.1 641.8C467.0 644.3 466.7 652.8 466.8 657.1C466.8 661.3 467.4 665.6 467.5 667.3M474.8 643.9L483.5 640.3M475.5 644.2C475.6 644.9 474.2 647.9 475.8 648.3C477.4 648.8 483.5 647.1 485.0 646.9M473.3 653.4L487.2 651.2M475.5 657.8C477.0 657.5 482.9 655.8 484.3 656.3C485.6 656.8 484.7 659.7 483.5 660.7C482.3 661.7 478.2 661.1 477.0 662.2C475.8 663.3 475.9 665.3 476.2 667.3C476.6 669.2 476.6 673.1 479.2 673.8C481.7 674.5 489.5 671.8 491.5 671.3" stroke-width="2.3"/>
<path d="M425.4 227.6C424.9 229.8 423.5 236.6 422.6 240.8C421.7 244.9 420.6 250.6 420.2 252.5M421.6 248.4C422.2 247.4 424.3 244.0 425.4 242.8C426.5 241.7 427.7 240.4 428.1 241.4C428.5 242.5 427.9 247.8 427.8 249.1M431.9 240.4L431.3 250.4M429.5 233.8C430.2 233.6 432.6 232.3 433.7 232.3C434.8 232.3 435.7 233.6 436.1 233.8M437.1 238.0L436.4 251.5M436.8 249.7C437.5 248.4 439.8 243.5 441.3 241.4C442.7 239.4 444.6 237.4 445.4 237.3C446.3 237.2 446.4 238.6 446.5 240.8C446.5 242.9 445.9 248.5 445.8 250.1M452.4 248.0C453.5 247.2 457.9 244.7 459.3 243.2C460.6 241.6 460.7 239.6 460.3 238.8C459.9 238.1 458.2 237.7 456.8 238.7C455.5 239.7 453.2 242.7 452.4 244.9C451.5 247.1 451.3 250.2 451.8 251.8C452.3 253.4 453.0 254.6 455.5 254.6C457.9 254.5 464.7 252.0 466.5 251.5" stroke-width="2.7"/>
<path d="M261.1 222.8C260.0 225.2 256.9 232.0 254.1 237.4C251.4 242.8 246.2 252.3 244.6 255.3" stroke-width="3.3"/>
<path d="M332.5 252.3L321.4 257.3" stroke-width="3.2"/>
<path d="M261.1 222.8C261.7 222.7 264.1 221.4 264.6 222.5C265.1 223.6 265.0 226.0 264.1 229.1C263.2 232.2 260.9 238.1 259.2 241.2C257.6 244.4 255.0 247.1 254.1 248.3M254.1 248.3C255.5 246.4 259.4 241.3 262.4 237.4C265.4 233.5 270.4 226.8 272.0 224.7M272.0 224.7C271.4 226.5 269.4 232.0 268.4 235.5C267.4 239.0 266.3 243.5 266.2 245.7C266.2 247.9 267.6 248.4 267.9 248.9M274.5 237.4C274.3 238.8 273.0 243.7 273.0 245.7C273.0 247.7 273.5 249.8 274.5 249.5C275.5 249.2 277.6 245.8 279.0 243.8C280.4 241.8 282.5 237.1 282.8 237.4C283.2 237.7 281.2 243.8 281.2 245.7C281.1 247.6 282.2 248.4 282.4 248.9M282.4 248.9C283.2 247.8 285.8 244.5 287.3 242.5C288.7 240.5 290.5 237.9 291.1 237.0M292.4 236.8C292.0 238.7 291.0 244.2 289.8 248.3C288.7 252.3 287.2 257.0 285.4 261.0C283.6 265.0 280.4 271.2 279.0 272.5C277.6 273.8 276.4 270.6 276.8 268.7C277.2 266.7 279.2 262.9 281.5 261.0C283.9 259.1 288.9 258.3 291.1 257.2C293.3 256.0 294.3 254.5 294.9 254.0M294.9 254.0C296.1 253.0 300.8 250.0 301.9 248.3C303.1 246.5 302.6 243.9 301.9 243.4C301.3 242.9 299.1 243.6 298.1 245.1C297.1 246.5 295.8 250.4 295.9 252.1C296.1 253.8 297.3 255.1 298.8 255.3C300.2 255.5 303.5 253.7 304.5 253.4M307.7 245.7C307.9 246.8 309.0 250.1 309.2 252.1C309.4 254.0 308.8 256.5 308.7 257.4M309.6 251.4C310.3 250.7 312.5 248.1 314.1 247.2C315.6 246.3 318.3 246.2 319.2 246.0M339.8 231.0C338.5 231.5 334.2 232.3 331.9 233.6C329.6 234.9 325.3 236.8 325.8 238.7C326.3 240.6 333.3 243.4 335.1 245.1C336.9 246.8 337.2 247.4 336.4 248.9C335.5 250.4 332.5 252.6 330.0 254.0C327.4 255.4 322.6 256.9 321.1 257.4M348.2 229.1C347.8 231.3 346.5 237.7 345.7 241.9C344.9 246.0 343.8 252.0 343.4 254.0M344.0 243.4L350.4 241.9" stroke-width="2.7"/>
<path d="M354.6 244.4C353.8 244.9 351.1 245.6 350.1 247.0C349.1 248.4 348.3 251.5 348.6 252.7C348.9 253.9 350.8 255.1 352.0 254.0C353.2 252.9 355.3 246.6 355.8 246.3C356.3 246.1 354.7 251.3 354.9 252.7C355.2 254.1 357.1 254.3 357.5 254.6M366.7 233.0C366.1 234.9 364.3 241.1 363.5 244.4C362.6 247.7 361.4 251.0 361.6 252.7C361.8 254.5 363.6 255.6 364.8 254.9C365.9 254.1 367.8 250.3 368.6 248.3C369.3 246.2 369.1 243.5 369.2 242.5M360.9 241.6L371.1 240.6M370.5 250.8C371.7 250.2 376.2 248.4 377.5 247.0C378.8 245.6 378.9 243.3 378.4 242.5C377.9 241.8 375.8 241.6 374.6 242.5C373.4 243.5 371.5 246.3 371.1 248.3C370.8 250.2 371.5 253.0 372.4 254.0C373.4 254.9 375.3 254.7 376.9 254.0C378.5 253.2 381.1 250.3 382.0 249.5M382.0 249.5C382.7 247.7 385.1 242.3 386.4 238.7C387.8 235.1 389.8 228.2 390.3 228.1C390.8 228.0 389.8 234.7 389.4 238.1C388.9 241.4 387.1 248.4 387.7 248.3C388.3 248.1 391.3 240.4 392.8 237.4C394.4 234.4 396.4 230.0 397.0 230.4C397.6 230.8 396.5 237.0 396.3 240.0C396.0 242.9 395.5 246.9 395.4 248.3M404.3 241.9C403.6 242.3 400.9 243.0 400.1 244.2C399.2 245.3 398.8 248.0 399.2 248.9C399.5 249.8 401.1 250.5 402.1 249.5C403.1 248.5 404.8 243.1 405.2 242.9C405.6 242.7 404.4 247.1 404.7 248.3C404.9 249.4 406.5 249.5 406.8 249.8M414.5 241.2C413.8 241.5 411.2 241.8 410.3 242.9C409.3 244.0 408.5 246.5 408.8 247.6C409.0 248.8 410.3 249.8 411.6 249.8C412.8 249.8 415.6 248.0 416.4 247.6" stroke-width="2.7"/>
<path d="M342.7 467.1C341.3 469.6 336.7 477.0 334.0 481.8C331.3 486.6 327.7 493.5 326.4 495.8" stroke-width="3.3"/>
<path d="M358.3 463.9C357.3 465.6 354.6 470.7 352.5 474.1C350.4 477.5 347.9 481.8 345.5 484.3C343.1 486.8 339.1 488.4 337.9 489.2" stroke-width="3.0"/>
<path d="M337.9 468.4C339.0 468.0 343.6 466.0 344.9 466.2C346.1 466.4 346.0 467.9 345.5 469.7C345.0 471.4 343.6 474.6 341.7 476.7C339.8 478.8 335.3 481.5 334.0 482.4M337.9 489.2C339.1 489.0 343.4 488.7 345.5 488.4C347.6 488.1 349.8 487.7 350.6 487.5M362.7 478.6C361.7 478.9 357.9 479.2 356.3 480.5C354.8 481.8 353.3 485.1 353.4 486.2C353.5 487.4 355.3 488.7 357.0 487.5C358.6 486.3 362.5 479.4 363.4 479.2C364.2 479.0 361.8 484.9 362.1 486.2C362.4 487.6 364.7 487.3 365.3 487.5M366.5 477.3C366.8 478.6 367.1 483.9 367.8 485.0C368.6 486.0 369.7 485.1 371.0 483.7C372.3 482.3 374.7 477.8 375.5 476.7M376.1 475.4C375.7 477.3 375.3 483.1 373.6 486.9C371.9 490.7 368.1 496.1 365.9 498.4C363.7 500.6 361.2 501.3 360.5 500.6C359.9 500.0 360.3 496.8 362.1 494.5C363.8 492.2 368.2 488.9 371.0 486.9C373.8 484.9 377.4 483.2 378.7 482.4M378.7 482.4C379.7 481.7 383.9 479.3 385.0 478.0C386.2 476.6 386.2 474.6 385.7 474.1C385.1 473.7 382.9 474.1 381.8 475.4C380.8 476.7 379.2 480.0 379.3 481.8C379.4 483.6 381.1 485.7 382.5 486.2C383.9 486.8 386.7 485.2 387.6 485.0M392.0 472.2C391.7 474.0 390.8 479.8 390.1 483.1C389.5 486.3 388.5 490.5 388.2 492.0M386.3 482.4C387.6 481.9 391.4 480.4 394.0 479.2C396.5 478.1 400.3 476.0 401.6 475.4M416.3 465.8C415.1 466.6 411.6 467.9 409.3 470.3C406.9 472.7 404.0 477.1 402.2 480.5C400.4 483.9 398.5 488.0 398.4 490.7C398.3 493.4 399.8 495.6 401.6 496.4C403.4 497.3 407.6 497.0 409.3 495.8C411.0 494.6 411.4 490.5 411.8 489.4M403.5 488.8L420.7 486.9M413.7 487.5L413.7 493.9M414.1 490.1C414.8 489.3 417.1 486.2 418.2 485.6C419.3 485.0 420.3 486.5 420.7 486.6M427.1 484.3C426.6 485.0 424.2 486.7 423.9 488.2C423.6 489.6 424.2 492.6 425.2 493.3C426.1 493.9 428.7 493.0 429.7 492.0C430.6 490.9 431.2 488.1 430.9 486.9C430.6 485.6 428.3 485.0 427.7 484.6" stroke-width="2.7"/>
<path d="M486.4 487.5L477.2 492.0" stroke-width="3.1"/>
<path d="M435.1 483.7C435.0 484.9 434.1 489.3 434.5 490.7C434.8 492.1 436.0 492.8 437.0 492.0C438.1 491.1 440.0 487.2 440.8 485.6C441.7 484.0 441.8 481.5 442.1 482.4C442.4 483.4 442.4 489.9 442.5 491.3M446.8 481.8L446.3 491.3M446.8 486.9C447.5 486.0 449.7 482.5 451.0 481.8C452.4 481.0 454.1 481.1 454.9 482.4C455.6 483.7 455.1 487.9 455.5 489.4C455.9 490.9 457.1 491.0 457.4 491.3M461.9 473.5C462.7 472.9 466.0 469.3 467.0 469.7C468.0 470.0 467.8 473.0 467.7 475.4C467.7 477.8 467.1 481.5 466.7 484.3C466.4 487.1 465.9 490.9 465.7 492.2M466.0 488.8C465.1 488.6 461.7 487.5 460.6 487.9C459.5 488.3 458.6 490.5 459.1 491.3C459.5 492.1 461.5 493.1 463.2 492.7C464.9 492.4 468.3 489.8 469.3 489.2M492.5 468.4C491.0 468.9 486.1 470.0 483.6 471.6C481.0 473.2 478.0 476.4 477.4 478.0C476.9 479.5 478.9 480.2 480.4 481.1C481.8 482.1 485.0 482.7 486.1 483.7C487.2 484.6 487.4 485.8 486.7 486.9C486.1 487.9 483.9 489.2 482.3 490.1C480.6 490.9 477.8 491.7 476.9 492.0M500.1 465.8C499.5 468.3 497.4 476.3 496.3 480.5C495.2 484.8 494.2 489.5 493.8 491.3M486.1 482.4C487.8 482.0 493.5 480.5 496.3 479.9C499.1 479.2 501.6 478.8 502.7 478.6M512.9 479.9C511.8 480.3 508.1 480.9 506.5 482.4C504.9 483.9 503.2 487.5 503.3 488.8C503.4 490.1 505.4 491.4 507.1 490.1C508.8 488.7 512.8 480.8 513.5 480.5C514.3 480.2 511.4 486.5 511.6 488.2C511.8 489.9 514.3 490.3 514.8 490.7M522.4 466.5C521.9 468.6 520.2 475.4 519.3 479.2C518.3 483.1 516.6 487.4 516.7 489.4C516.8 491.4 518.7 492.0 519.9 491.3C521.1 490.7 522.9 487.6 523.7 485.6C524.6 483.6 524.8 480.3 525.0 479.2M514.2 478.6L526.9 476.9M526.3 486.2C527.4 485.6 531.8 484.0 533.3 482.4C534.8 480.8 535.6 477.6 535.2 476.7C534.8 475.7 532.1 475.4 530.7 476.7C529.3 478.0 527.3 482.0 526.9 484.3C526.5 486.7 527.2 489.5 528.2 490.7C529.1 491.9 531.2 491.9 532.6 491.7C534.1 491.5 536.4 489.8 537.1 489.4" stroke-width="2.7"/>
<path d="M75.0 636.6C73.4 638.1 68.7 640.4 65.4 645.5C62.1 650.6 56.7 663.8 54.9 667.4" stroke-width="2.9"/>
<path d="M54.6 667.8C55.4 665.7 57.5 659.5 59.7 655.1C61.8 650.6 64.7 644.2 67.3 641.0C70.0 637.9 74.0 636.3 75.6 635.9C77.2 635.6 77.4 637.2 76.9 639.1C76.3 641.0 74.5 644.6 72.4 647.4C70.3 650.2 65.5 654.5 64.1 656.0M64.1 656.0C66.0 654.5 72.2 650.4 75.6 647.4C79.0 644.4 82.1 640.6 84.5 637.9C86.9 635.1 89.3 630.8 89.9 630.8C90.4 630.8 88.8 634.7 87.7 637.9C86.6 641.0 84.0 647.2 83.3 650.0C82.5 652.8 82.7 653.8 83.0 654.7C83.3 655.5 84.8 655.0 85.2 655.1M95.4 647.4C94.5 647.8 91.4 648.8 90.3 650.0C89.1 651.1 88.1 653.3 88.4 654.2C88.6 655.0 90.3 656.0 91.5 655.1C92.8 654.1 95.4 648.9 96.0 648.7C96.6 648.5 94.8 652.7 95.0 653.8C95.2 654.9 96.9 655.2 97.3 655.4M99.2 646.8C99.3 647.9 99.3 652.5 99.8 653.8C100.4 655.1 101.1 655.5 102.4 654.4C103.7 653.4 106.6 648.6 107.5 647.4M108.8 645.5C108.2 647.4 107.3 652.7 105.6 657.0C103.9 661.2 100.3 668.1 98.6 671.0C96.8 673.9 95.5 674.6 95.0 674.2C94.4 673.8 94.1 670.9 95.4 668.5C96.6 666.0 99.7 661.9 102.4 659.5C105.0 657.2 109.8 655.3 111.3 654.4M111.3 654.4C112.4 653.8 116.4 651.9 117.7 650.6C118.9 649.3 119.2 647.3 118.7 646.8C118.2 646.2 115.9 646.2 114.9 647.4C113.8 648.6 112.3 652.1 112.3 653.8C112.4 655.5 113.7 657.3 115.1 657.6C116.6 657.9 119.9 656.0 120.9 655.7M123.0 650.0C123.2 651.1 123.9 655.1 123.8 657.0C123.7 658.9 122.7 660.7 122.5 661.4M124.1 656.3C124.7 655.5 126.6 652.3 127.9 651.2C129.2 650.2 131.1 650.2 131.7 650.0M138.7 639.8L150.2 637.2M145.1 638.5C144.5 640.9 142.4 648.7 141.3 653.2C140.1 657.6 138.6 663.2 138.1 665.3M129.2 667.2C130.9 666.8 136.0 665.8 139.4 664.9C142.8 663.9 147.9 662.0 149.6 661.4" stroke-width="2.3"/>
<path d="M197.5 659.8L190.1 665.9" stroke-width="3.1"/>
<path d="M156.0 658.3C155.2 658.4 152.2 658.3 150.9 658.9C149.7 659.5 148.2 661.2 148.4 662.1C148.6 662.9 150.6 664.5 152.2 664.0C153.8 663.5 157.0 659.7 158.0 658.9M164.1 637.2C163.5 639.4 161.5 646.4 160.5 650.6C159.5 654.9 158.1 660.5 158.0 662.7C157.8 664.9 159.5 663.8 159.9 664.0M173.0 637.2C172.3 639.4 169.9 646.5 168.8 650.6C167.7 654.7 166.4 659.8 166.2 662.1C166.1 664.3 167.6 663.7 167.9 664.0M173.3 662.7C174.2 662.0 177.8 659.8 179.0 658.3C180.2 656.7 180.7 654.2 180.3 653.4C179.8 652.6 177.6 652.4 176.4 653.4C175.3 654.4 173.7 657.5 173.3 659.5C172.8 661.5 173.0 664.1 173.9 665.3C174.7 666.4 176.3 666.9 178.4 666.5C180.4 666.2 184.7 663.9 186.0 663.4M202.6 643.6C201.3 644.0 196.8 645.0 194.9 646.1C193.0 647.3 190.9 649.3 191.1 650.6C191.3 651.9 194.9 652.7 196.2 653.8C197.5 654.9 199.0 655.6 198.8 657.0C198.5 658.4 196.4 660.6 194.9 662.1C193.4 663.6 190.7 665.3 189.8 665.9M211.5 643.0C211.1 645.1 209.6 652.0 209.0 655.7C208.3 659.4 207.9 663.7 207.7 665.3M214.1 655.7C213.8 656.9 212.5 661.3 212.8 662.7C213.1 664.1 214.8 664.8 216.0 664.0C217.1 663.1 218.8 659.2 219.8 657.6C220.7 656.0 221.5 653.7 221.7 654.4C221.9 655.2 220.9 660.5 221.1 662.1C221.3 663.7 222.7 663.7 223.0 664.0M232.5 639.8C232.0 642.0 230.3 649.3 229.4 653.2C228.4 657.0 227.0 660.9 227.1 662.7C227.2 664.5 229.0 664.7 230.0 664.0C231.0 663.2 232.5 660.5 233.2 658.3C233.9 656.0 234.0 651.9 234.2 650.6M224.3 651.9L235.7 650.6M236.4 659.5C237.7 658.9 242.7 657.3 244.7 655.7C246.6 654.1 248.1 651.1 247.8 650.0C247.6 648.8 245.2 647.6 243.4 648.7C241.6 649.8 238.1 654.0 237.0 656.3C235.9 658.7 236.2 661.4 237.0 662.7C237.9 664.0 240.1 664.3 242.1 664.0C244.1 663.7 247.9 661.3 249.1 660.8" stroke-width="2.3"/>
<path d="M891.8 101.4C891.4 102.9 889.8 107.6 889.6 110.1C889.4 112.7 889.8 115.5 890.5 116.7C891.2 117.9 892.5 118.5 893.7 117.2C895.0 116.0 896.8 111.9 898.1 109.0C899.4 106.2 900.8 101.8 901.4 100.3M901.9 100.8C902.1 103.3 902.6 110.6 903.0 115.6C903.5 120.6 904.2 128.4 904.5 130.9M903.0 112.3C903.7 111.4 905.5 107.9 906.9 106.9C908.2 105.9 910.3 105.8 911.2 106.3C912.1 106.9 912.7 108.7 912.3 110.1C912.0 111.6 910.4 114.0 909.0 115.1C907.7 116.1 904.9 116.4 904.1 116.7M921.1 108.5C920.3 108.7 917.8 108.6 916.7 109.6C915.6 110.6 914.4 113.3 914.5 114.5C914.6 115.7 916.1 117.4 917.2 116.7C918.4 116.0 920.9 111.2 921.6 110.1M924.6 99.2C924.3 100.8 923.2 106.1 922.7 109.0C922.2 112.0 921.6 115.6 921.4 116.9M930.9 108.5C930.3 108.8 927.9 109.0 927.1 110.1C926.3 111.2 925.7 114.0 926.0 115.1C926.3 116.1 927.7 117.6 928.7 116.7C929.7 115.8 931.5 109.8 932.0 109.6C932.4 109.4 931.2 114.3 931.4 115.6C931.7 116.9 933.3 117.0 933.6 117.2M941.3 98.7C940.9 100.4 939.7 106.1 939.1 109.0C938.5 112.0 937.3 114.8 937.5 116.1C937.6 117.5 939.2 117.9 940.2 117.2C941.2 116.6 942.7 113.9 943.5 112.3C944.2 110.8 944.4 108.7 944.6 108.0M933.1 106.9L946.2 105.2M944.6 114.5C945.7 114.0 950.2 112.5 951.7 111.2C953.1 110.0 953.6 107.7 953.3 106.9C953.0 106.0 951.3 105.4 950.0 106.3C948.8 107.2 946.4 110.4 945.7 112.3C944.9 114.2 945.0 116.5 945.7 117.8C946.3 119.1 948.0 120.2 949.5 120.0C950.9 119.8 953.6 117.2 954.4 116.7M961.5 102.5C960.9 103.1 958.5 104.8 958.0 106.3C957.5 107.9 957.6 110.6 958.4 111.8C959.3 113.0 962.4 113.1 963.1 113.4M968.6 98.7C969.2 100.0 971.5 104.0 971.9 106.9C972.2 109.7 971.7 113.2 970.8 115.6C969.9 118.0 967.1 120.2 966.4 121.1" stroke-width="2.0"/>
</svg>
</body></html>
